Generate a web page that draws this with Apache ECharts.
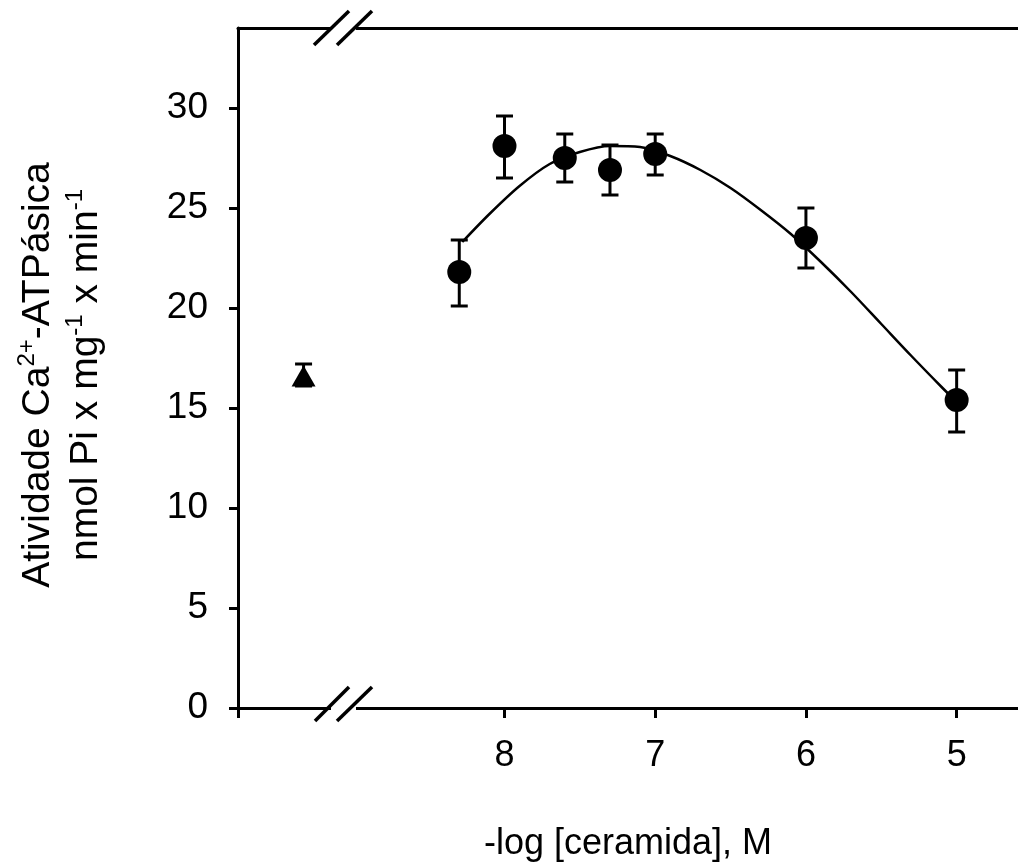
<!DOCTYPE html>
<html>
<head>
<meta charset="utf-8">
<script src="https://cdn.jsdelivr.net/npm/echarts@6/dist/echarts.min.js"></script>
<style>
  html, body { margin: 0; padding: 0; background: #fff; }
  #chart { width: 1018px; height: 867px; }
</style>
</head>
<body>
<div id="chart"></div>
<script>
// pontos medidos (média ± erro)
var logCer = [8.3, 8.0, 7.6, 7.3, 7.0, 6.0, 5.0];
var atividade = [21.8, 28.1, 27.5, 26.9, 27.7, 23.5, 15.4];
var erroBaixo = [20.1, 26.5, 26.3, 25.65, 26.65, 22.0, 13.8];
var erroAlto = [23.4, 29.6, 28.7, 28.15, 28.7, 25.0, 16.9];
// controle (sem ceramida)
var controleX = [9.333];
var controleY = [16.6];
var controleBaixo = [16.1];
var controleAlto = [17.2];
// curva ajustada
var curvaX = [8.28, 8.1, 7.9, 7.7, 7.5, 7.3, 7.1, 6.9, 6.7, 6.5, 6.3, 6.1, 5.9, 5.7, 5.5, 5.3, 5.1, 5.0];
var curvaY = [23.3, 24.7, 26.1, 27.2, 27.8, 28.1, 28.05, 27.6, 26.9, 26.0, 24.9, 23.7, 22.3, 20.8, 19.2, 17.6, 16.05, 15.3];
var xTicks = [8, 7, 6, 5];
var yTicks = [0, 5, 10, 15, 20, 25, 30];

var fonte = 'Liberation Sans, Arial, sans-serif';
var gridL = 238, gridT = 28, gridB = 159;

function pares(xs, ys) {
  var out = [];
  for (var i = 0; i < xs.length; i++) out.push([xs[i], ys[i]]);
  return out;
}
function barras(xs, lo, hi) {
  var out = [];
  for (var i = 0; i < xs.length; i++) out.push([xs[i], lo[i], hi[i]]);
  return out;
}
// barras de erro
function desenhaErro(params, api) {
  var x = api.value(0);
  var a = api.coord([x, api.value(1)]);
  var b = api.coord([x, api.value(2)]);
  var w = 8.5;
  var st = { stroke: '#000', lineWidth: 3 };
  return {
    type: 'group',
    children: [
      { type: 'line', shape: { x1: a[0], y1: a[1], x2: b[0], y2: b[1] }, style: st },
      { type: 'line', shape: { x1: a[0] - w, y1: a[1], x2: a[0] + w, y2: a[1] }, style: st },
      { type: 'line', shape: { x1: b[0] - w, y1: b[1], x2: b[0] + w, y2: b[1] }, style: st }
    ]
  };
}

var chart = echarts.init(document.getElementById('chart'));
var option = {
  animation: false,
  backgroundColor: '#fff',
  grid: { left: gridL, right: 0, top: gridT, bottom: gridB, outerBoundsMode: 'none' },
  xAxis: [{
    type: 'value',
    inverse: true,
    min: 4.593,
    max: 9.768,
    splitLine: { show: false },
    axisLine: { lineStyle: { color: '#000', width: 3 } },
    axisTick: { length: 10, lineStyle: { color: '#000', width: 3 }, customValues: [9.768].concat(xTicks) },
    axisLabel: { customValues: xTicks, margin: 30, color: '#000', fontSize: 36, fontFamily: fonte },
    name: '-log [ceramida], M',
    nameLocation: 'middle',
    nameGap: 118,
    nameTextStyle: { color: '#000', fontSize: 36, fontFamily: fonte }
  }, {
    type: 'value',
    position: 'top',
    inverse: true,
    min: 4.593,
    max: 9.768,
    splitLine: { show: false },
    axisLine: { lineStyle: { color: '#000', width: 3 } },
    axisTick: { show: false },
    axisLabel: { show: false }
  }],
  yAxis: {
    type: 'value',
    min: 0,
    max: 34,
    splitLine: { show: false },
    axisLine: { show: true, lineStyle: { color: '#000', width: 3 } },
    axisTick: { show: true, length: 9, lineStyle: { color: '#000', width: 3 }, customValues: yTicks },
    axisLabel: { customValues: yTicks, margin: 30, color: '#000', fontSize: 37, fontFamily: fonte },
    name: '{a|Atividade Ca}{s|2+}{a|-ATPásica}\n{a|nmol Pi x mg}{s|-1}{a| x min}{s|-1}',
    nameLocation: 'middle',
    nameRotate: 90,
    nameGap: 128,
    nameTextStyle: {
      color: '#000',
      fontFamily: fonte,
      padding: [0, 14, 0, 0],
      rich: {
        a: { fontSize: 39, lineHeight: 48, fontFamily: fonte, color: '#000' },
        s: { fontSize: 24, lineHeight: 48, verticalAlign: 'top', padding: [1, 0, 0, 0], fontFamily: fonte, color: '#000' }
      }
    }
  },
  series: [
    {
      type: 'line',
      data: pares(curvaX, curvaY),
      smooth: 0.3,
      showSymbol: false,
      lineStyle: { color: '#000', width: 2.5 },
      z: 1
    },
    {
      type: 'custom',
      renderItem: desenhaErro,
      data: barras(logCer, erroBaixo, erroAlto).concat(barras(controleX, controleBaixo, controleAlto)),
      encode: { x: 0, y: [1, 2] },
      z: 2
    },
    {
      type: 'scatter',
      data: pares(logCer, atividade),
      symbol: 'circle',
      symbolSize: 24,
      itemStyle: { color: '#000', opacity: 1 },
      z: 3
    },
    {
      type: 'scatter',
      data: pares(controleX, controleY),
      symbol: 'triangle',
      symbolSize: [24, 21],
      itemStyle: { color: '#000', opacity: 1 },
      z: 3
    }
  ],
  graphic: [
    // quebras do eixo
    { type: 'rect', shape: { x: 331, y: 24, width: 25, height: 8 }, style: { fill: '#fff' }, z: 100 },
    { type: 'line', shape: { x1: 314, y1: 45, x2: 349, y2: 11 }, style: { stroke: '#000', lineWidth: 3.5 }, z: 101 },
    { type: 'line', shape: { x1: 337, y1: 45, x2: 372, y2: 11 }, style: { stroke: '#000', lineWidth: 3.5 }, z: 101 },
    { type: 'rect', shape: { x: 331, y: 704, width: 25, height: 8 }, style: { fill: '#fff' }, z: 100 },
    { type: 'line', shape: { x1: 315, y1: 721, x2: 349, y2: 687 }, style: { stroke: '#000', lineWidth: 3.5 }, z: 101 },
    { type: 'line', shape: { x1: 337, y1: 721, x2: 372, y2: 687 }, style: { stroke: '#000', lineWidth: 3.5 }, z: 101 }
  ]
};
chart.setOption(option);
</script>
</body>
</html>
